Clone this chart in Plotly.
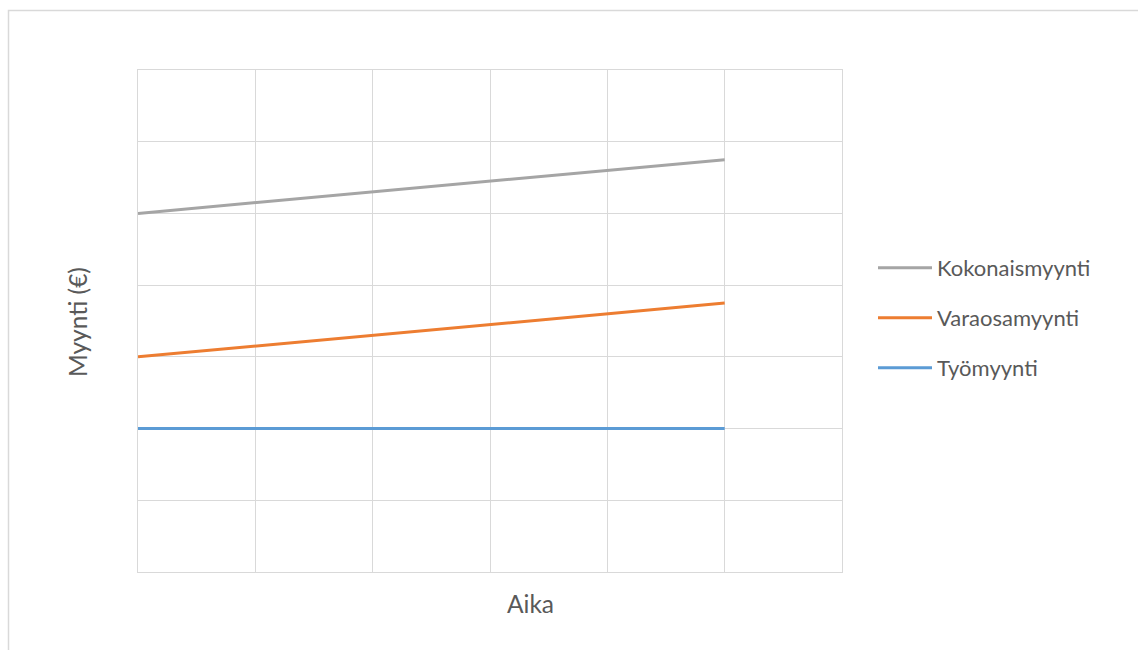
import plotly.graph_objects as go

# Data
periods = [0, 1, 2, 3, 4, 5]
tyomyynti = [2.0, 2.0, 2.0, 2.0, 2.0, 2.0]
varaosamyynti = [3.0, 3.15, 3.3, 3.45, 3.6, 3.75]
kokonaismyynti = [5.0, 5.15, 5.3, 5.45, 5.6, 5.75]
series_names = ["Kokonaismyynti", "Varaosamyynti", "Työmyynti"]
x_title = "Aika"
y_title = "Myynti (€)"

W, H = 1138, 650
L, R, T, B = 138, 1138 - 842, 70, 650 - 572
pw, ph = W - L - R, H - T - B

def px_x(x):
    return (x - L) / pw

def px_y(y):
    return (H - B - y) / ph

txt = "#595959"
grid = "#d9d9d9"
font = "Lato"
fs = 22
fs_title = 24.5

fig = go.Figure()
series = [
    (series_names[0], kokonaismyynti, "#A5A5A5", "legend"),
    (series_names[1], varaosamyynti, "#ED7D31", "legend2"),
    (series_names[2], tyomyynti, "#5B9BD5", "legend3"),
]
for name, vals, col, lg in series:
    fig.add_trace(go.Scatter(x=periods, y=vals, mode="lines", name=name, showlegend=True,
                             line=dict(color=col, width=3), legend=lg))

leg_common = dict(x=px_x(873), xanchor="left", yanchor="middle", visible=True,
                  font=dict(family=font, size=fs, color=txt),
                  bgcolor="rgba(0,0,0,0)", itemwidth=54)
fig.update_layout(
    width=W, height=H, showlegend=True,
    margin=dict(l=L, r=R, t=T, b=B, autoexpand=False),
    paper_bgcolor="white", plot_bgcolor="white",
    legend=dict(y=px_y(268), **leg_common),
    legend2=dict(y=px_y(318), **leg_common),
    legend3=dict(y=px_y(368), **leg_common),
    xaxis=dict(range=[0, 6], dtick=1, showticklabels=False, showgrid=True,
               gridcolor=grid, gridwidth=1.3, zeroline=False, showline=True,
               linecolor=grid, linewidth=1.3, mirror=True, ticks=""),
    yaxis=dict(range=[0, 7], dtick=1, showticklabels=False, showgrid=True,
               gridcolor=grid, gridwidth=1.3, zeroline=False, showline=True,
               linecolor=grid, linewidth=1.3, mirror=True, ticks=""),
    annotations=[
        dict(text=x_title, xref="paper", yref="paper", x=px_x(530), y=px_y(603),
             xanchor="center", yanchor="middle", showarrow=False,
             font=dict(family=font, size=fs_title, color=txt)),
        dict(text=y_title, xref="paper", yref="paper", x=px_x(77), y=px_y(322),
             xanchor="center", yanchor="middle", showarrow=False, textangle=-90,
             font=dict(family=font, size=fs_title, color=txt)),
    ],
    shapes=[dict(type="rect", xref="paper", yref="paper",
                 x0=px_x(8.5), x1=px_x(1145), y0=px_y(660), y1=px_y(10.5),
                 line=dict(color="#d9d9d9", width=1.5), fillcolor="rgba(0,0,0,0)", layer="below")],
)

fig.write_html("out.html")
